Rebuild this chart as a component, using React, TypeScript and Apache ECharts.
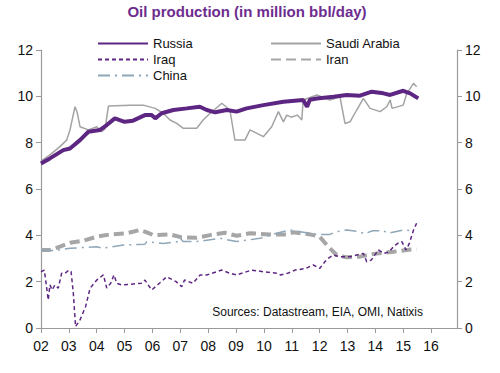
import React, { useEffect, useRef } from "react";
import * as echarts from "echarts";

const TITLE = "Oil production (in million bbl/day)";
const SOURCE = "Sources: Datastream, EIA, OMI, Natixis";

const russiaX = [2002.0, 2002.32, 2002.8, 2003.04, 2003.4, 2003.7, 2004.12, 2004.36, 2004.65, 2005.0, 2005.3, 2005.73, 2005.97, 2006.1, 2006.33, 2006.75, 2007.23, 2007.7, 2007.95, 2008.25, 2008.67, 2009.02, 2009.38, 2009.98, 2010.7, 2011.41, 2011.55, 2011.65, 2011.9, 2012.5, 2012.97, 2013.45, 2013.87, 2014.29, 2014.53, 2015.0, 2015.25, 2015.54];
const russiaY = [7.1, 7.32, 7.68, 7.75, 8.11, 8.47, 8.55, 8.76, 9.05, 8.9, 8.95, 9.19, 9.19, 9.05, 9.27, 9.41, 9.48, 9.55, 9.41, 9.31, 9.41, 9.34, 9.48, 9.62, 9.77, 9.84, 9.55, 9.85, 9.91, 9.98, 10.06, 10.03, 10.2, 10.13, 10.06, 10.24, 10.13, 9.91];

const saudiX = [2002.0, 2002.32, 2002.68, 2002.92, 2003.04, 2003.22, 2003.3, 2003.4, 2003.7, 2004.0, 2004.18, 2004.3, 2004.42, 2005.2, 2005.67, 2006.1, 2006.39, 2006.63, 2006.87, 2007.11, 2007.59, 2007.82, 2008.07, 2008.49, 2008.78, 2008.96, 2009.32, 2009.5, 2009.98, 2010.28, 2010.52, 2010.7, 2010.82, 2010.98, 2011.2, 2011.36, 2011.41, 2011.9, 2012.37, 2012.73, 2012.91, 2013.09, 2013.33, 2013.57, 2013.81, 2014.17, 2014.41, 2014.53, 2014.6, 2015.0, 2015.13, 2015.37, 2015.48];
const saudiY = [7.2, 7.47, 7.83, 8.11, 8.55, 9.55, 9.3, 8.69, 8.55, 8.69, 8.47, 8.6, 9.58, 9.62, 9.62, 9.48, 9.27, 8.98, 8.83, 8.62, 8.62, 8.98, 9.27, 9.7, 9.41, 8.11, 8.11, 8.55, 8.26, 8.69, 9.34, 8.9, 9.19, 9.1, 9.19, 8.98, 9.84, 10.06, 9.84, 9.98, 8.83, 8.9, 9.41, 9.91, 9.48, 9.34, 9.55, 9.84, 9.48, 9.62, 10.13, 10.56, 10.41];

const iraqX = [2002.0, 2002.12, 2002.26, 2002.32, 2002.4, 2002.5, 2002.62, 2002.74, 2002.86, 2003.0, 2003.08, 2003.16, 2003.24, 2003.4, 2003.6, 2003.76, 2004.0, 2004.24, 2004.36, 2004.5, 2004.62, 2004.72, 2004.9, 2005.6, 2005.73, 2005.97, 2006.25, 2006.51, 2006.85, 2007.05, 2007.15, 2007.45, 2007.71, 2007.95, 2008.49, 2008.78, 2009.02, 2009.56, 2009.98, 2010.46, 2010.6, 2010.85, 2011.12, 2011.5, 2011.77, 2012.0, 2012.19, 2012.3, 2012.49, 2012.7, 2013.09, 2013.57, 2013.69, 2013.85, 2014.11, 2014.3, 2014.5, 2014.65, 2014.8, 2014.95, 2015.1, 2015.22, 2015.37, 2015.48];
const iraqY = [2.43, 2.5, 1.21, 1.86, 1.64, 1.86, 1.72, 2.36, 2.36, 2.5, 2.43, 1.5, 0.06, 0.35, 0.92, 1.71, 2.07, 2.29, 1.72, 1.93, 2.29, 1.93, 1.86, 1.93, 2.07, 1.64, 1.93, 2.21, 2.0, 1.78, 2.07, 1.93, 2.29, 2.29, 2.5, 2.36, 2.29, 2.5, 2.43, 2.36, 2.29, 2.36, 2.5, 2.57, 2.72, 2.57, 2.86, 3.0, 3.15, 3.08, 3.08, 3.22, 2.86, 2.93, 3.37, 3.22, 3.29, 3.51, 3.65, 3.73, 3.37, 3.65, 4.23, 4.52];

const iranX = [2002.0, 2002.32, 2002.68, 2003.04, 2003.52, 2004.0, 2004.48, 2005.08, 2005.55, 2005.8, 2006.03, 2006.63, 2007.05, 2007.59, 2008.07, 2008.6, 2009.02, 2009.5, 2010.2, 2010.82, 2011.06, 2011.66, 2012.0, 2012.31, 2012.61, 2012.97, 2013.45, 2014.05, 2014.65, 2015.13, 2015.48];
const iranY = [3.37, 3.37, 3.51, 3.68, 3.77, 3.94, 4.04, 4.09, 4.23, 4.13, 4.01, 4.04, 3.91, 3.9, 4.01, 4.11, 3.98, 4.09, 4.04, 4.04, 4.13, 4.04, 3.94, 3.51, 3.15, 3.05, 3.08, 3.22, 3.29, 3.37, 3.4];

const chinaX = [2002.0, 2002.5, 2003.04, 2004.0, 2004.2, 2004.96, 2005.73, 2005.8, 2006.39, 2006.93, 2007.0, 2007.1, 2007.59, 2008.43, 2009.02, 2009.86, 2010.46, 2010.94, 2011.9, 2012.37, 2012.61, 2012.97, 2013.45, 2013.6, 2013.9, 2014.29, 2014.45, 2015.0, 2015.37];
const chinaY = [3.37, 3.34, 3.44, 3.51, 3.44, 3.58, 3.62, 3.73, 3.65, 3.73, 3.87, 3.73, 3.73, 3.87, 3.73, 3.87, 4.09, 4.23, 4.04, 4.04, 4.16, 4.23, 4.16, 4.06, 4.2, 4.2, 4.09, 4.23, 4.2];

const yTicks = [0, 2, 4, 6, 8, 10, 12];

const pairs = (xs: number[], ys: number[]) => xs.map((x, i) => [x, ys[i]]);

export default function App() {
  const ref = useRef<HTMLDivElement>(null);
  useEffect(() => {
    if (!ref.current) return;
    const chart = echarts.init(ref.current, null, { renderer: "svg" });
    const font = "'Liberation Sans', Arial, sans-serif";
    const axisColor = "#9a9a9a";
    const yAxisBase = {
      type: "value" as const,
      min: yTicks[0],
      max: yTicks[yTicks.length - 1],
      interval: 2,
      splitLine: { show: false },
      axisLine: { show: true, lineStyle: { color: axisColor, width: 1.2 } },
      axisTick: { show: true, length: 5, lineStyle: { color: axisColor } },
      axisLabel: { color: "#111", fontSize: 14, fontFamily: font, margin: 8 },
    };
    const legendBase = {
      orient: "vertical" as const,
      top: 32,
      itemWidth: 50,
      itemHeight: 14,
      itemGap: 3,
      itemStyle: { opacity: 0 },
      textStyle: { fontSize: 13, fontFamily: font, color: "#111" },
    };
    chart.setOption({
      animation: false,
      legend: [
        { ...legendBase, data: ["Russia", "Iraq", "China"], left: 92 },
        { ...legendBase, data: ["Saudi Arabia", "Iran"], left: 265 },
      ],
      grid: { left: 41, right: 43, top: 50, bottom: 45 },
      xAxis: {
        type: "value",
        min: 2002,
        max: 2016.93,
        interval: 1,
        splitLine: { show: false },
        axisLine: { lineStyle: { color: axisColor, width: 1.2 } },
        axisTick: { show: true, length: 5, lineStyle: { color: axisColor } },
        axisLabel: {
          color: "#111",
          fontSize: 14,
          fontFamily: font,
          margin: 11,
          showMaxLabel: false,
          formatter: (v: number) =>
            Math.abs(v - Math.round(v)) < 1e-6 ? String(Math.round(v) % 100).padStart(2, "0") : "",
        },
      },
      yAxis: [
        { ...yAxisBase, position: "left" },
        { ...yAxisBase, position: "right" },
      ],
      graphic: [
        {
          type: "text",
          x: 247,
          y: 11,
          style: {
            text: TITLE,
            fontSize: 15,
            fontWeight: "bold",
            fontFamily: font,
            fill: "#6E2C8F",
            align: "center",
            verticalAlign: "middle",
          },
        },
        {
          type: "text",
          right: 77,
          top: 306,
          style: { text: SOURCE, fontSize: 12, fontFamily: font, fill: "#111" },
        },
      ],
      series: [
        {
          name: "Russia",
          type: "line",
          symbol: "none",
          data: pairs(russiaX, russiaY),
          lineStyle: { color: "#5E2683", width: 4 },
          itemStyle: { color: "#5E2683" },
          z: 5,
        },
        {
          name: "Saudi Arabia",
          type: "line",
          symbol: "none",
          data: pairs(saudiX, saudiY),
          lineStyle: { color: "#a3a3a3", width: 1.5 },
          itemStyle: { color: "#a3a3a3" },
          z: 4,
        },
        {
          name: "Iraq",
          type: "line",
          symbol: "none",
          data: pairs(iraqX, iraqY),
          lineStyle: { color: "#5E2683", width: 1.5, type: [4, 3] },
          itemStyle: { color: "#5E2683" },
          z: 6,
        },
        {
          name: "Iran",
          type: "line",
          symbol: "none",
          data: pairs(iranX, iranY),
          lineStyle: { color: "#a6a6a6", width: 4, type: [10, 5] },
          itemStyle: { color: "#a6a6a6" },
          z: 3,
        },
        {
          name: "China",
          type: "line",
          symbol: "none",
          data: pairs(chinaX, chinaY),
          lineStyle: { color: "#8fa7b8", width: 1.5, type: [12, 5, 2, 5] },
          itemStyle: { color: "#8fa7b8" },
          z: 4,
        },
      ],
    });
    return () => chart.dispose();
  }, []);
  return (
    <div
      ref={ref}
      style={{ position: "absolute", left: 0, top: 0, width: 500, height: 373 }}
    />
  );
}
